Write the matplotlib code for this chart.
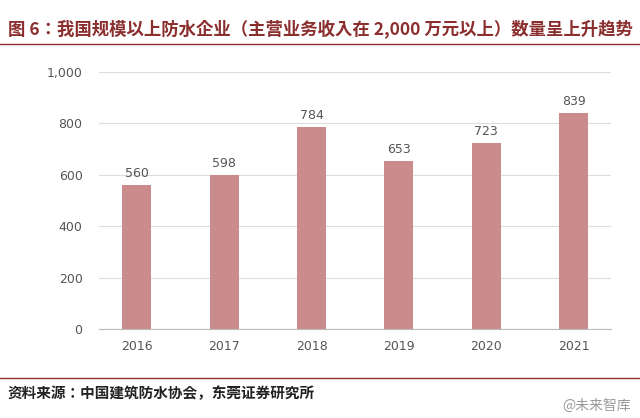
import matplotlib
matplotlib.use('Agg')
import matplotlib.pyplot as plt
from matplotlib import font_manager
from matplotlib.font_manager import FontProperties
from matplotlib.ticker import FuncFormatter

# pick Sans CJK fonts (regular and bold) by file
sans = [f for f in font_manager.fontManager.ttflist if 'Sans CJK' in f.name]
reg = [f for f in sans if f.weight in (400, 'normal', 'regular')]
bold = [f for f in sans if f.weight in (700, 'bold')]
fp_reg = FontProperties(fname=reg[0].fname) if reg else FontProperties(family='DejaVu Sans')
fp_bold = FontProperties(fname=bold[0].fname) if bold else FontProperties(fname=reg[0].fname, weight='bold')

years = ['2016', '2017', '2018', '2019', '2020', '2021']
counts = [560, 598, 784, 653, 723, 839]

fig = plt.figure(figsize=(6.4, 4.18), dpi=100)
ax = fig.add_axes([0.155, 0.213, 0.80, 0.615])

ax.bar(years, counts, width=0.33, color='#C98B8B')
for i, v in enumerate(counts):
    ax.text(i, v + 20, str(v), ha='center', va='bottom', fontsize=9, color='#555555')

ax.set_ylim(0, 1000)
ax.set_yticks(range(0, 1001, 200))
ax.yaxis.set_major_formatter(FuncFormatter(lambda x, p: f'{int(x):,}'))
ax.grid(axis='y', color='#DDDDDD', linewidth=0.8)
ax.set_axisbelow(True)
for s in ['top', 'right', 'left']:
    ax.spines[s].set_visible(False)
ax.spines['bottom'].set_color('#BBBBBB')
ax.tick_params(axis='both', length=0, labelsize=9, labelcolor='#555555')
ax.tick_params(axis='x', pad=8)
ax.tick_params(axis='y', pad=12)

fp_bold.set_size(12.5)
fig.text(0.012, 0.932, '图 6：我国规模以上防水企业（主营业务收入在 2,000 万元以上）数量呈上升趋势',
         fontproperties=fp_bold, color='#8B2E2E', va='center')
fig.add_artist(plt.Line2D([0.0, 1.0], [0.895, 0.895], color='#8B2E2E', linewidth=1))
fig.add_artist(plt.Line2D([0.0, 1.0], [0.095, 0.095], color='#8B2E2E', linewidth=1))
fp_src = fp_bold.copy()
fp_src.set_size(10.5)
fig.text(0.012, 0.06, '资料来源：中国建筑防水协会，东莞证券研究所', fontproperties=fp_src,
         color='#222222', va='center')
fp_wm = fp_reg.copy()
fp_wm.set_size(10)
fig.text(0.985, 0.03, '@未来智库', fontproperties=fp_wm, color='#999999', ha='right', va='center')

fig.savefig('out.png')
